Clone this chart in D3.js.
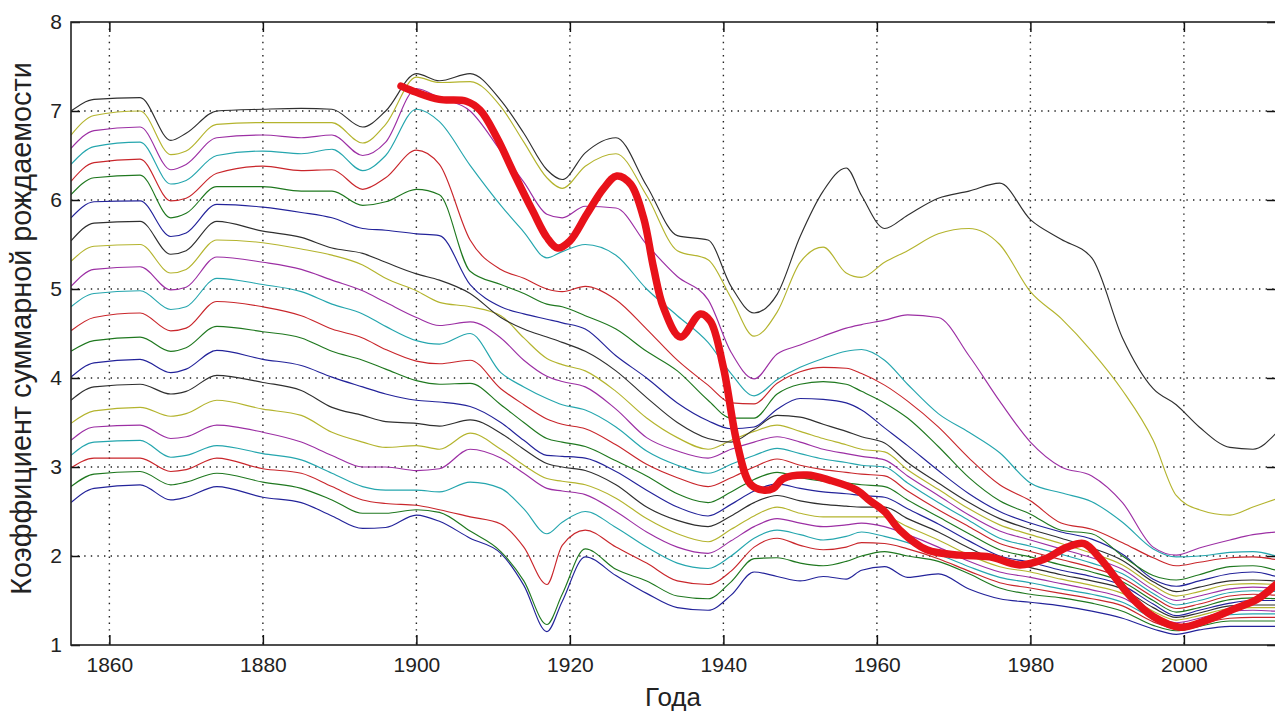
<!DOCTYPE html>
<html><head><meta charset="utf-8">
<script src="https://cdn.jsdelivr.net/npm/d3@7"></script>
<style>
body{margin:0;background:#fff;}
svg{display:block;}
text{font-family:"Liberation Sans",Arial,Helvetica,sans-serif;}
</style>
</head><body>
<svg id="chart" width="1275" height="713"></svg>
<script>
// ---------------- DATA ----------------
const years = [1855,1858,1864,1868,1870,1874,1880,1885,1889,1893,1896,1900,1903,1907,1911,1914,1917,1919,1922,1926,1930,1934,1938,1941,1944,1947,1950,1953,1956,1958,1961,1964,1968,1972,1976,1980,1984,1988,1992,1996,1999,2002,2006,2009,2012];

const tfr01 = [2.60,2.76,2.80,2.63,2.66, 2.78,2.66,2.60,2.45,2.31, 2.32,2.46,2.39,2.20,2.03, 1.67,1.15,1.49,1.99,1.78, 1.58,1.42,1.39,1.56,1.82, 1.77,1.72,1.77,1.74,1.84, 1.88,1.76,1.80,1.63,1.52, 1.48,1.44,1.38,1.30,1.18, 1.12,1.17,1.21,1.21,1.21];
const tfr02 = [2.78,2.92,2.95,2.80,2.83, 2.93,2.83,2.76,2.63,2.48, 2.48,2.52,2.49,2.28,2.05, 1.72,1.23,1.57,2.08,1.85, 1.72,1.55,1.52,1.71,1.97, 1.98,1.92,1.89,1.94,2.00, 2.05,2.00,1.94,1.80,1.64, 1.57,1.53,1.47,1.38,1.22, 1.16,1.21,1.27,1.27,1.27];
const tfr03 = [2.99,3.10,3.10,2.95,2.97, 3.10,2.98,2.93,2.78,2.63, 2.59,2.57,2.52,2.44,2.36, 2.10,1.68,2.12,2.29,2.10, 1.92,1.72,1.68,1.83,2.10, 2.20,2.12,2.07,2.10,2.15, 2.14,2.08,1.97,1.83,1.70, 1.64,1.58,1.52,1.44,1.26, 1.19,1.24,1.30,1.31,1.31];
const tfr04 = [3.13,3.28,3.30,3.11,3.13, 3.24,3.15,3.08,2.93,2.78, 2.74,2.74,2.72,2.83,2.76, 2.53,2.25,2.38,2.50,2.32, 2.10,1.92,1.86,2.00,2.20, 2.29,2.24,2.18,2.22,2.27, 2.22,2.15,2.02,1.88,1.76, 1.70,1.63,1.57,1.48,1.30, 1.22,1.27,1.34,1.35,1.35];
const tfr05 = [3.30,3.45,3.47,3.32,3.34, 3.47,3.39,3.28,3.13,3.00, 3.00,2.96,2.98,3.20,3.10, 2.93,2.76,2.73,2.69,2.50, 2.27,2.10,2.03,2.17,2.33, 2.42,2.37,2.33,2.35,2.37, 2.33,2.24,2.10,1.94,1.82, 1.76,1.69,1.62,1.53,1.34, 1.25,1.30,1.38,1.39,1.38];
const tfr06 = [3.49,3.63,3.67,3.57,3.60, 3.75,3.65,3.58,3.39,3.28, 3.22,3.24,3.20,3.38,3.20, 3.02,2.87,2.84,2.80,2.65, 2.42,2.25,2.16,2.30,2.45, 2.55,2.48,2.44,2.44,2.44, 2.44,2.33,2.18,2.01,1.88, 1.82,1.74,1.67,1.58,1.38, 1.28,1.33,1.41,1.42,1.42];
const tfr07 = [3.75,3.90,3.93,3.82,3.85, 4.03,3.95,3.86,3.67,3.58, 3.51,3.49,3.46,3.53,3.38, 3.20,3.04,3.00,2.96,2.80, 2.55,2.40,2.33,2.45,2.60, 2.68,2.62,2.58,2.56,2.55, 2.55,2.42,2.27,2.09,1.94, 1.87,1.79,1.72,1.63,1.42, 1.31,1.36,1.44,1.45,1.45];
const tfr08 = [4.01,4.17,4.21,4.06,4.10, 4.31,4.21,4.14,4.01,3.90, 3.82,3.75,3.73,3.68,3.50, 3.30,3.13,3.12,3.10,2.95, 2.74,2.55,2.45,2.58,2.73, 2.81,2.76,2.72,2.70,2.68, 2.66,2.53,2.36,2.17,2.00, 1.93,1.84,1.77,1.67,1.46, 1.33,1.39,1.47,1.50,1.50];
const tfr09 = [4.30,4.42,4.46,4.30,4.34, 4.58,4.52,4.45,4.30,4.20, 4.10,3.97,3.93,3.94,3.70, 3.50,3.32,3.28,3.23,3.07, 2.90,2.70,2.60,2.72,2.86, 2.94,2.88,2.84,2.82,2.80, 2.78,2.63,2.44,2.25,2.07, 1.99,1.90,1.82,1.71,1.50, 1.37,1.42,1.51,1.53,1.52];
const tfr10 = [4.53,4.68,4.73,4.53,4.56, 4.86,4.80,4.70,4.55,4.45, 4.32,4.19,4.16,4.20,3.88, 3.70,3.54,3.48,3.43,3.25, 3.03,2.88,2.78,2.88,3.00, 3.09,3.02,2.97,2.94,2.92, 2.90,2.73,2.52,2.33,2.14, 2.05,1.96,1.87,1.75,1.54, 1.41,1.46,1.55,1.57,1.56];
const tfr11 = [4.80,4.95,4.98,4.77,4.80, 5.12,5.05,4.97,4.83,4.72, 4.58,4.42,4.38,4.50,4.06, 3.90,3.77,3.70,3.64,3.45, 3.18,3.02,2.93,3.03,3.13, 3.21,3.15,3.09,3.05,3.02, 3.00,2.82,2.60,2.40,2.20, 2.11,2.02,1.92,1.80,1.58, 1.45,1.50,1.59,1.61,1.60];
const tfr12 = [5.03,5.22,5.25,4.99,5.02, 5.36,5.30,5.22,5.10,4.98, 4.85,4.68,4.59,4.63,4.45, 4.20,4.02,3.96,3.90,3.65, 3.33,3.18,3.10,3.20,3.28, 3.34,3.28,3.20,3.15,3.12, 3.08,2.90,2.68,2.46,2.28, 2.18,2.08,1.98,1.85,1.62, 1.50,1.55,1.63,1.65,1.64];
const tfr13 = [5.31,5.48,5.50,5.18,5.22, 5.55,5.52,5.45,5.38,5.27, 5.12,4.98,4.85,4.80,4.70, 4.45,4.22,4.15,4.08,3.85, 3.55,3.33,3.20,3.30,3.40, 3.47,3.40,3.32,3.25,3.20, 3.17,2.97,2.75,2.53,2.35, 2.24,2.14,2.03,1.90,1.67, 1.55,1.60,1.68,1.69,1.68];
const tfr14 = [5.54,5.74,5.76,5.39,5.43, 5.76,5.65,5.58,5.46,5.40, 5.30,5.17,5.10,4.95,4.68, 4.55,4.46,4.40,4.30,4.08, 3.78,3.50,3.32,3.28,3.42, 3.58,3.56,3.48,3.40,3.34, 3.27,3.05,2.82,2.60,2.42, 2.30,2.20,2.09,1.95,1.71, 1.60,1.65,1.72,1.73,1.72];
const tfr15 = [5.80,5.98,5.99,5.59,5.63, 5.95,5.92,5.86,5.80,5.68, 5.66,5.62,5.60,5.05,4.80, 4.72,4.66,4.62,4.55,4.25, 4.00,3.72,3.52,3.43,3.45, 3.65,3.77,3.76,3.72,3.64, 3.44,3.24,2.96,2.70,2.50, 2.37,2.27,2.19,2.02,1.74, 1.66,1.72,1.80,1.82,1.77];
const tfr16 = [6.06,6.25,6.28,5.80,5.85, 6.15,6.15,6.10,6.10,5.94, 5.98,6.12,6.06,5.20,5.05, 4.95,4.83,4.80,4.70,4.55, 4.30,4.08,3.75,3.55,3.55, 3.82,3.93,3.96,3.93,3.85, 3.72,3.55,3.23,2.88,2.62, 2.47,2.29,2.25,2.00,1.78, 1.73,1.79,1.88,1.89,1.84];
const tfr17 = [6.21,6.42,6.46,5.99,6.02, 6.30,6.38,6.33,6.34,6.12, 6.25,6.56,6.40,5.55,5.22, 5.12,5.00,4.97,5.03,4.88, 4.55,4.20,3.92,3.72,3.71, 3.94,4.07,4.12,4.11,4.05, 3.92,3.74,3.45,3.10,2.80, 2.62,2.37,2.30,2.15,1.98, 1.89,1.93,1.98,1.99,1.96];
const tfr18 = [6.40,6.60,6.65,6.18,6.22, 6.50,6.55,6.52,6.57,6.33, 6.50,7.02,6.88,6.39,5.94, 5.64,5.35,5.42,5.50,5.38, 5.00,4.70,4.40,4.05,3.80, 3.98,4.12,4.22,4.30,4.32, 4.20,3.93,3.60,3.39,3.16, 2.82,2.71,2.61,2.38,2.08, 1.99,2.00,2.04,2.05,2.00];
const tfr19 = [6.58,6.78,6.82,6.34,6.40, 6.70,6.73,6.70,6.73,6.50, 6.65,7.25,7.15,7.00,6.55, 6.20,5.84,5.80,5.93,5.91, 5.50,5.14,4.88,4.29,3.99, 4.27,4.37,4.47,4.56,4.60, 4.65,4.71,4.68,4.25,3.74, 3.28,3.00,2.90,2.60,2.10, 2.01,2.09,2.18,2.24,2.27];
const tfr20 = [6.73,6.95,7.00,6.51,6.55, 6.85,6.87,6.87,6.87,6.64, 6.85,7.38,7.32,7.33,7.05, 6.65,6.25,6.13,6.38,6.52, 6.05,5.43,5.33,4.90,4.47, 4.74,5.30,5.47,5.18,5.13, 5.30,5.43,5.62,5.68,5.50, 4.97,4.67,4.30,3.86,3.30, 2.68,2.52,2.46,2.55,2.64];
const tfr21 = [7.00,7.13,7.15,6.67,6.75, 7.00,7.02,7.03,7.02,6.82, 7.00,7.42,7.34,7.42,7.12, 6.75,6.34,6.23,6.53,6.70, 6.16,5.60,5.55,5.03,4.73, 4.94,5.59,6.10,6.36,6.05, 5.68,5.83,6.02,6.10,6.19, 5.78,5.56,5.35,4.45,3.88, 3.70,3.45,3.22,3.20,3.38];

const russiaYears = [1898,1900,1903,1906.5,1908.3,1910.5,1912.6,1915.2,1917,1918.4,1920,1922.2,1924.4,1926.1,1927.9,1929.6,1930.9,1932.2,1934.4,1937,1938.3,1940,1941.8,1943.5,1945.2,1946.5,1947.8,1950.9,1953.9,1957.4,1959.1,1961,1963,1966.5,1970.8,1974.7,1978.6,1981.7,1984.8,1987,1989.1,1993,1996,1999.5,2003,2006.4,2009.5,2012];
const russiaTfr = [7.28,7.21,7.13,7.11,7.01,6.70,6.32,5.87,5.58,5.46,5.54,5.84,6.13,6.27,6.18,5.80,5.24,4.79,4.46,4.72,4.64,4.12,3.26,2.81,2.74,2.76,2.87,2.91,2.85,2.74,2.62,2.50,2.29,2.07,2.01,1.99,1.90,1.96,2.10,2.14,1.97,1.55,1.32,1.20,1.28,1.40,1.51,1.68];

const xTicks = [1860,1880,1900,1920,1940,1960,1980,2000];
const yTicks = [1,2,3,4,5,6,7,8];
const xLabel = "Года";
const yLabel = "Коэффициент суммарной рождаемости";

// ---------------- DRAWING ----------------
const series = [tfr01,tfr02,tfr03,tfr04,tfr05,tfr06,tfr07,tfr08,tfr09,tfr10,tfr11,tfr12,tfr13,tfr14,tfr15,tfr16,tfr17,tfr18,tfr19,tfr20,tfr21];
const colorOrder = ["#23239a","#1f781f","#c9262b","#25a6ae","#9c2fa4","#b4b42e","#2f2f2f"];

const L = 71, R = 1276, T = 22, B = 645;
const svg = d3.select("#chart");
const x = d3.scaleLinear().domain([1855, 2012]).range([L, R]);
const y = d3.scaleLinear().domain([1, 8]).range([B, T]);

svg.append("defs").append("clipPath").attr("id","plotclip")
  .append("rect").attr("x",L).attr("y",T).attr("width",R-L).attr("height",B-T);

// grid
const grid = svg.append("g");
grid.selectAll("line.gx").data(xTicks).join("line")
  .attr("x1",d=>x(d)).attr("x2",d=>x(d)).attr("y1",T).attr("y2",B)
  .attr("stroke","#222").attr("stroke-width",1.4).attr("stroke-dasharray","1.4,5.2");
grid.selectAll("line.gy").data(yTicks.filter(d=>d>1&&d<8)).join("line")
  .attr("x1",L).attr("x2",R).attr("y1",d=>y(d)).attr("y2",d=>y(d))
  .attr("stroke","#222").attr("stroke-width",1.4).attr("stroke-dasharray","1.4,5.2");

// thin lines
const line = d3.line().x(d=>x(d[0])).y(d=>y(d[1])).curve(d3.curveMonotoneX);
const plot = svg.append("g").attr("clip-path","url(#plotclip)");
series.forEach((s,i)=>{
  plot.append("path")
    .datum(years.map((yr,j)=>[yr,s[j]]))
    .attr("d",line)
    .attr("fill","none")
    .attr("stroke",colorOrder[i%7])
    .attr("stroke-width",1.15)
    .attr("stroke-linejoin","round");
});

// thick red line
const smooth = d3.line().x(d=>x(d[0])).y(d=>y(d[1])).curve(d3.curveCatmullRom.alpha(0.5));
plot.append("path")
  .datum(russiaYears.map((yr,j)=>[yr,russiaTfr[j]]))
  .attr("d",smooth)
  .attr("fill","none")
  .attr("stroke","#e8121a")
  .attr("stroke-width",7.5)
  .attr("stroke-linecap","round")
  .attr("stroke-linejoin","round");

// axes
function styleAxis(g){
  g.select(".domain").remove();
  g.selectAll(".tick line").attr("stroke","#111").attr("stroke-width",1.5);
  g.selectAll("text").attr("fill","#222").attr("font-size",21)
    .attr("font-family",'"Liberation Sans",Arial,sans-serif');
}
svg.append("g").attr("transform",`translate(0,${B})`)
  .call(d3.axisBottom(x).tickValues(xTicks).tickFormat(d3.format("d")).tickSizeInner(-10).tickSizeOuter(0).tickPadding(12))
  .call(styleAxis);
svg.append("g").attr("transform",`translate(0,${T})`)
  .call(d3.axisTop(x).tickValues(xTicks).tickFormat("").tickSizeInner(-10).tickSizeOuter(0))
  .call(styleAxis);
svg.append("g").attr("transform",`translate(${L},0)`)
  .call(d3.axisLeft(y).tickValues(yTicks).tickFormat(d3.format("d")).tickSizeInner(-9).tickSizeOuter(0).tickPadding(9))
  .call(styleAxis);
svg.append("g").attr("transform",`translate(${R},0)`)
  .call(d3.axisRight(y).tickValues(yTicks).tickFormat("").tickSizeInner(-9).tickSizeOuter(0))
  .call(styleAxis);

// box
svg.append("rect").attr("x",L).attr("y",T).attr("width",R-L).attr("height",B-T)
  .attr("fill","none").attr("stroke","#222").attr("stroke-width",1.6);

// labels
svg.append("text").attr("x",(L+R)/2 - 0.5).attr("y",706).attr("text-anchor","middle")
  .attr("font-size",26).attr("fill","#222").text(xLabel);
const yl = svg.append("text").attr("transform",`translate(31,${(62+595)/2}) rotate(-90)`)
  .attr("text-anchor","middle").attr("font-size",24).attr("fill","#222").text(yLabel);
const len = yl.node().getComputedTextLength();
if (len > 0) yl.attr("font-size", 24*533/len);
</script>
</body></html>
